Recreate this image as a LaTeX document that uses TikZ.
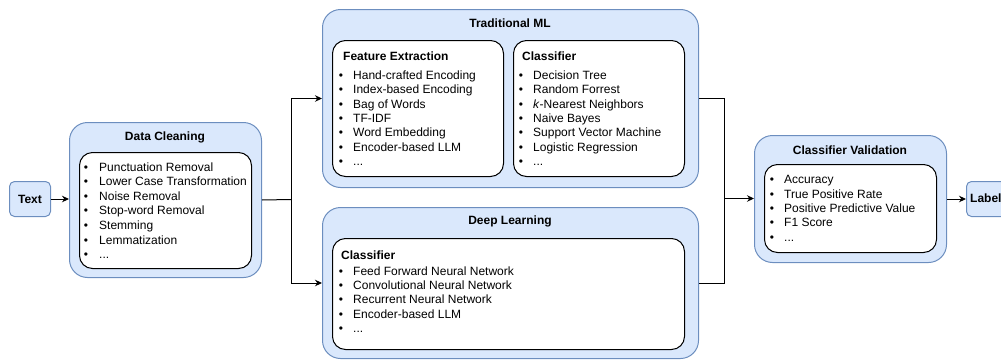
\documentclass[tikz,border=0pt]{standalone}
\usepackage{fontspec}
\setmainfont{Liberation Sans}
\usetikzlibrary{arrows.meta}
\definecolor{panelfill}{HTML}{DAE8FC}
\definecolor{panelline}{HTML}{6C8EBF}

\tikzset{
  panel/.style={draw=panelline, fill=panelfill, line width=1pt, rounded corners=18pt,
                inner sep=0pt, anchor=north west},
  listbox/.style={draw=black, fill=white, line width=1pt, rounded corners=13pt,
                inner sep=0pt, anchor=north west},
  tag/.style={draw=panelline, fill=panelfill, line width=1pt, rounded corners=5pt,
                inner sep=0pt, anchor=north west, minimum width=41pt, minimum height=35pt},
  txt/.style={inner sep=0pt, text height=8.6pt, text depth=0pt,
                font=\fontsize{12}{14}\selectfont},
  heading/.style={txt, font=\fontsize{12}{14}\selectfont\bfseries},
  item/.style={txt, anchor=west},
  bul/.style={txt, anchor=center},
  conn/.style={draw=black, line width=1pt},
  arr/.style={conn, -{Stealth[length=7pt,width=6.5pt]}},
}

% trailing "more" entry of each list (kept as a macro so \foreach sees no dots)
\newcommand{\moreitems}{...}

% bullet list: name prefix, bullet x, text x, first line y, spacing, items
\newcommand{\bulletlist}[6]{%
  \foreach \entry [count=\idx] in {#6}{%
    \node[bul]  (#1-b\idx) at (#2, {#4+(\idx-1)*#5}) {\textbullet};
    \node[item] (#1-\idx)  at (#3, {#4+(\idx-1)*#5}) {\entry};
  }}

\begin{document}
\begin{tikzpicture}[x=1pt, y=-1pt]
\useasboundingbox (0,0) rectangle (1001,359);

% input and output tags
\node[tag] (intag) at (9,181) {};
\node[heading] (intag-t) at (intag.center) {Text};
\node[tag] (outtag) at (966,181) {};
\node[heading, anchor=west] (outtag-t) at (970,198.5) {Label};

% data cleaning
\node[panel, minimum width=192pt, minimum height=155pt] (dc) at (69,122) {};
\node[listbox, minimum width=172pt, minimum height=116pt] (dcin) at (79,152) {};
\node[heading] (dct) at (165,136) {Data Cleaning};
\bulletlist{dc}{86}{99}{166.7}{14.6}{Punctuation Removal,Lower Case Transformation,Noise Removal,Stop-word Removal,Stemming,Lemmatization,\moreitems}

% traditional machine learning
\node[panel, minimum width=376pt, minimum height=178pt] (tml) at (322,9) {};
\node[heading] (tmlt) at (510,23) {Traditional ML};
\node[listbox, minimum width=171pt, minimum height=136pt] (fe) at (332,40) {};
\node[heading, anchor=west] (fet) at (343,56) {Feature Extraction};
\bulletlist{fe}{341}{353}{75}{14.4}{Hand-crafted Encoding,Index-based Encoding,Bag of Words,TF-IDF,Word Embedding,Encoder-based LLM,\moreitems}
\node[listbox, minimum width=171pt, minimum height=136pt] (cl) at (513,40) {};
\node[heading, anchor=west] (clt) at (522,56) {Classifier};
\bulletlist{cl}{521}{533}{75}{14.4}{Decision Tree,Random Forrest,\emph{k}-Nearest Neighbors,Naive Bayes,Support Vector Machine,Logistic Regression,\moreitems}

% deep learning
\node[panel, minimum width=376pt, minimum height=151pt] (dl) at (322,207) {};
\node[heading] (dlt) at (510,220) {Deep Learning};
\node[listbox, minimum width=352pt, minimum height=111pt] (dlc) at (332,238) {};
\node[heading, anchor=west] (dlct) at (341,255) {Classifier};
\bulletlist{dlc}{341}{353}{271}{14.3}{Feed Forward Neural Network,Convolutional Neural Network,Recurrent Neural Network,Encoder-based LLM,\moreitems}

% classifier validation
\node[panel, minimum width=192pt, minimum height=127pt] (cv) at (754,135) {};
\node[heading] (cvt) at (850,150) {Classifier Validation};
\node[listbox, minimum width=172pt, minimum height=88pt] (cvin) at (764,164) {};
\bulletlist{cv}{772}{784}{179.3}{14.4}{Accuracy,True Positive Rate,Positive Predictive Value,F1 Score,\moreitems}

% connectors
\coordinate (split) at (291,199.5);
\coordinate (merge) at (724,198.5);
\draw[arr] (intag.east) -- (intag.east -| dc.west);
\draw[conn] (dc.east) -- (split);
\draw[arr] (split) |- (tml.west);
\draw[arr] (split) |- (dl.west);
\draw[conn] (tml.east) -| (merge);
\draw[conn] (dl.east) -| (merge);
\draw[arr] (merge) -- (merge -| cv.west);
\draw[arr] (cv.east |- outtag.west) -- (outtag.west);
\end{tikzpicture}
\end{document}
